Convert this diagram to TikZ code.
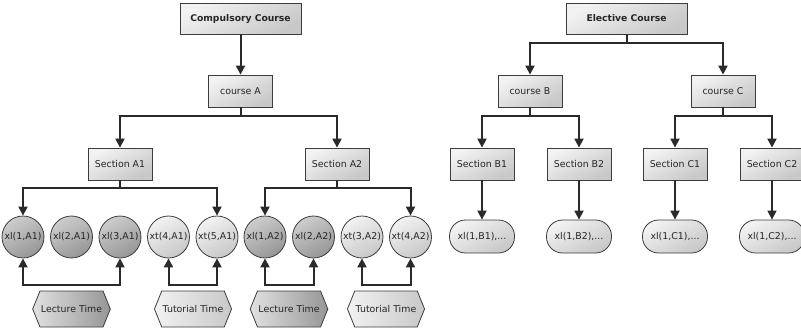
\documentclass[tikz,border=0pt]{standalone}
\usepackage{fontspec}
\setsansfont{DejaVu Sans}
\usepackage{tikz}
\usetikzlibrary{positioning, arrows.meta, shapes.symbols, calc}
\definecolor{edge}{RGB}{60, 60, 60}
\definecolor{boxlight}{RGB}{242, 242, 242}
\definecolor{boxdark}{RGB}{200, 200, 200}
\definecolor{darklight}{RGB}{205, 205, 205}
\definecolor{darkdark}{RGB}{150, 150, 150}

\tikzset{
    txt/.style={font=\sffamily\fontsize{9.4}{11}\selectfont, text=black!85},
    box/.style={txt, draw=edge, line width=0.8pt, rectangle, minimum width=64,
        minimum height=32, inner sep=1, top color=boxlight, bottom color=boxdark, shading angle=30},
    headbox/.style={box, minimum width=121, minimum height=31, font=\sffamily\bfseries\fontsize{9.2}{11}\selectfont},
    lvar/.style={txt, draw=edge, line width=0.8pt, circle, minimum size=42, inner sep=0,
        top color=darklight, bottom color=darkdark, shading angle=30},
    tvar/.style={lvar, top color=boxlight, bottom color=boxdark, shading angle=30},
    vars/.style={box, minimum width=65, minimum height=33, rounded corners=16},
    slot/.style={txt, draw=edge, line width=0.8pt, signal, signal to=east and west,
        signal pointer angle=136, minimum width=69, minimum height=36, inner sep=1},
    lslot/.style={slot, left color=darklight!60!white, right color=darkdark},
    tslot/.style={slot, left color=boxlight, right color=boxdark},
    link/.style={line width=2pt, edge!70!black, -{Triangle[length=9pt, width=9pt]}},
}

\begin{document}
\begin{tikzpicture}[x=1pt, y=-1pt]
\clip (0,0) rectangle (801,333);

% compulsory tree
\node[headbox] (comp) at (240.5,18.5) {Compulsory Course};
\node[box] (cA) at (240.5,91) {course A};
\node[box] (sA1) at (120,164) {Section A1};
\node[box] (sA2) at (337,164) {Section A2};

\node[lvar] (a11) at (23,237) {xl(1,A1)};
\node[lvar] (a12) at (71.5,237) {xl(2,A1)};
\node[lvar] (a13) at (120,237) {xl(3,A1)};
\node[tvar] (a14) at (168.5,237) {xt(4,A1)};
\node[tvar] (a15) at (217,237) {xt(5,A1)};
\node[lvar] (a21) at (265,237) {xl(1,A2)};
\node[lvar] (a22) at (313.5,237) {xl(2,A2)};
\node[tvar] (a23) at (362,237) {xt(3,A2)};
\node[tvar] (a24) at (410.5,237) {xt(4,A2)};

\node[lslot] (lec1) at (71.5,309) {Lecture Time};
\node[tslot] (tut1) at (193,309) {Tutorial Time};
\node[lslot] (lec2) at (289,309) {Lecture Time};
\node[tslot] (tut2) at (386,309) {Tutorial Time};

\draw[link] (comp) -- (cA);
\draw[link] (cA.south) -- ++(0,9) -| (sA1.north);
\draw[link] (cA.south) -- ++(0,9) -| (sA2.north);
\draw[link] (sA1.south) -- ++(0,8) -| (a11.north);
\draw[link] (sA1.south) -- ++(0,8) -| (a15.north);
\draw[link] (sA2.south) -- ++(0,8) -| (a21.north);
\draw[link] (sA2.south) -- ++(0,8) -| (a24.north);

\draw[link] ($(lec1.north)+(0,-6)$) -| (a11.south);
\draw[link] ($(lec1.north)+(0,-6)$) -| (a13.south);
\draw[link] ($(tut1.north)+(0,-6)$) -| (a14.south);
\draw[link] ($(tut1.north)+(0,-6)$) -| (a15.south);
\draw[link] ($(lec2.north)+(0,-6)$) -| (a21.south);
\draw[link] ($(lec2.north)+(0,-6)$) -| (a22.south);
\draw[link] ($(tut2.north)+(0,-6)$) -| (a23.south);
\draw[link] ($(tut2.north)+(0,-6)$) -| (a24.south);

% elective tree
\node[headbox] (elec) at (626.5,18.5) {Elective Course};
\node[box] (cB) at (530,91) {course B};
\node[box] (cC) at (723,91) {course C};
\node[box] (sB1) at (482,164) {Section B1};
\node[box] (sB2) at (579,164) {Section B2};
\node[box] (sC1) at (675,164) {Section C1};
\node[box] (sC2) at (772,164) {Section C2};

\node[vars] (vB1) at (482,236.5) {xl(1,B1),...};
\node[vars] (vB2) at (579,236.5) {xl(1,B2),...};
\node[vars] (vC1) at (675,236.5) {xl(1,C1),...};
\node[vars] (vC2) at (772,236.5) {xl(1,C2),...};

\draw[link] (elec.south) -- ++(0,9) -| (cB.north);
\draw[link] (elec.south) -- ++(0,9) -| (cC.north);
\draw[link] (cB.south) -- ++(0,9) -| (sB1.north);
\draw[link] (cB.south) -- ++(0,9) -| (sB2.north);
\draw[link] (cC.south) -- ++(0,9) -| (sC1.north);
\draw[link] (cC.south) -- ++(0,9) -| (sC2.north);
\draw[link] (sB1) -- (vB1);
\draw[link] (sB2) -- (vB2);
\draw[link] (sC1) -- (vC1);
\draw[link, line width=1.1pt] (sC2) -- (vC2);
\end{tikzpicture}
\end{document}
